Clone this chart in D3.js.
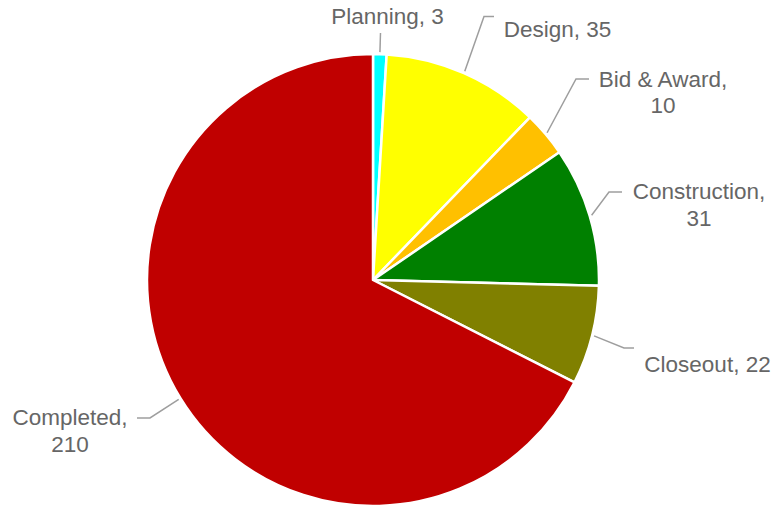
<!DOCTYPE html>
<html><head><meta charset="utf-8">
<script src="https://cdn.jsdelivr.net/npm/d3@7"></script>
<style>body{margin:0;background:#fff}svg{display:block}</style>
</head><body>
<script>
const categories = ["Planning", "Design", "Bid & Award", "Construction", "Closeout", "Completed"];
const values = [3, 35, 10, 31, 22, 210];
const colors = ["#00FFFF", "#FFFF00", "#FFC000", "#008000", "#808000", "#C00000"];

// layout: label centre x, first baseline y, line split, leader elbow and end
const labelLayout = [
  {x: 387.5, y: 24, lines: ["Planning, 3"], elbow: null, end: [380.5, 33]},
  {x: 557.5, y: 36.5, lines: ["Design, 35"], elbow: [484, 16.5], end: [494, 16.5]},
  {x: 663, y: 86.5, lines: ["Bid & Award,", "10"], elbow: [576, 79], end: [589, 79]},
  {x: 699, y: 199, lines: ["Construction,", "31"], elbow: [609, 192], end: [622, 192]},
  {x: 707.5, y: 371.5, lines: ["Closeout, 22"], elbow: [624, 348], end: [634, 348]},
  {x: 70, y: 425, lines: ["Completed,", "210"], elbow: [150, 418], end: [137, 418]}
];

const W = 774, H = 508, cx = 373, cy = 280, R = 226;
const svg = d3.select("body").append("svg").attr("width", W).attr("height", H);
const g = svg.append("g").attr("transform", `translate(${cx},${cy})`);

const pie = d3.pie().sort(null).value(d => d.v);
const data = pie(categories.map((c, i) => ({c, v: values[i], i})));
const arc = d3.arc().innerRadius(0).outerRadius(R);

g.selectAll("path.slice").data(data).enter().append("path")
  .attr("d", arc).attr("fill", d => colors[d.data.i])
  .attr("stroke", "#fff").attr("stroke-width", 2.5).attr("stroke-linejoin", "round");

data.forEach((d, i) => {
  const L = labelLayout[i];
  const a = (d.startAngle + d.endAngle) / 2;
  const sx = cx + (R + 2) * Math.sin(a), sy = cy - (R + 2) * Math.cos(a);
  const pts = [[sx, sy]];
  if (L.elbow) pts.push(L.elbow);
  pts.push(L.end);
  svg.append("path").attr("d", d3.line()(pts)).attr("fill", "none")
    .attr("stroke", "#9e9e9e").attr("stroke-width", 1.5);
  const t = svg.append("text").attr("text-anchor", "middle")
    .attr("font-family", "Arial, 'Liberation Sans', sans-serif").attr("font-size", 22.5).attr("fill", "#666");
  L.lines.forEach((ln, k) => {
    t.append("tspan").attr("x", L.x).attr("y", L.y + k * 26.7).text(ln);
  });
});
</script>
</body></html>
